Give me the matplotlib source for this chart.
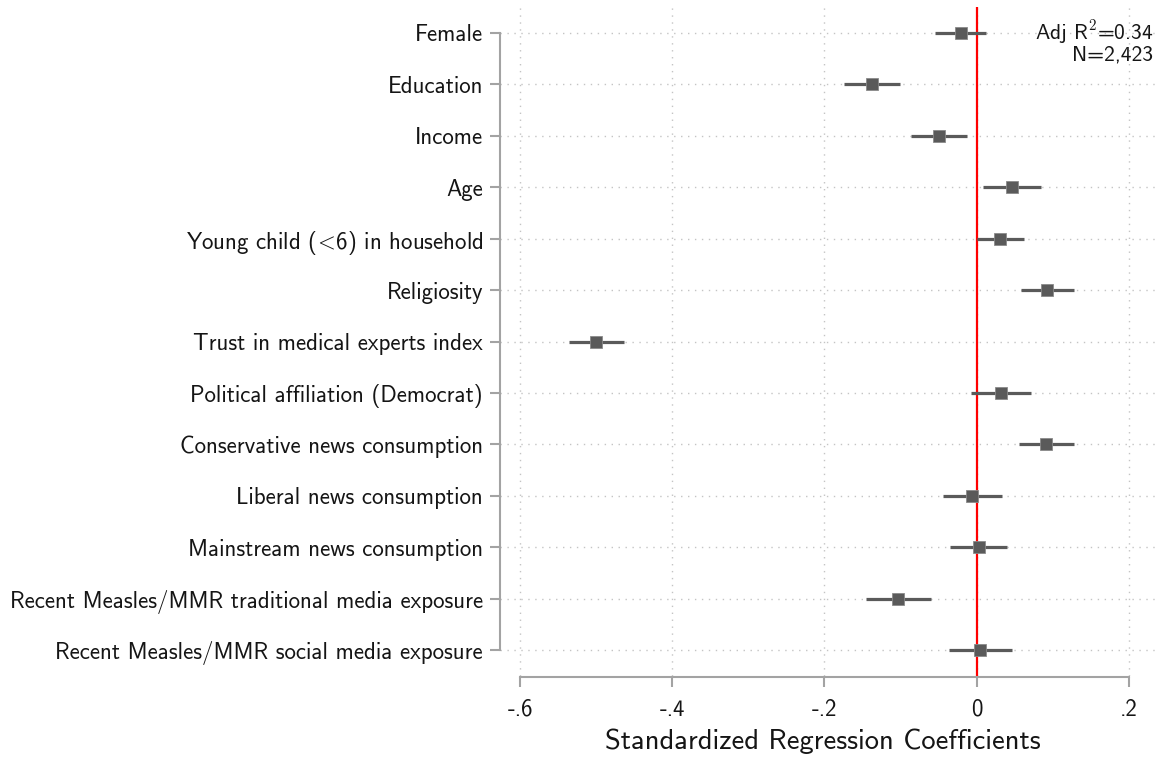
import matplotlib
matplotlib.use("Agg")
import matplotlib.pyplot as plt

labels = ["Female", "Education", "Income", "Age", r"Young child ($\!<\!$6) in household",
          "Religiosity", "Trust in medical experts index", "Political affiliation (Democrat)",
          "Conservative news consumption", "Liberal news consumption",
          "Mainstream news consumption", "Recent Measles/MMR traditional media exposure",
          "Recent Measles/MMR social media exposure"]
coef = [-0.021, -0.138, -0.049, 0.047, 0.031, 0.092, -0.500, 0.032, 0.091, -0.006, 0.003, -0.103, 0.005]
ci_low = [-0.055, -0.175, -0.086, 0.008, 0.000, 0.058, -0.536, -0.007, 0.055, -0.044, -0.035, -0.145, -0.036]
ci_high = [0.012, -0.101, -0.013, 0.084, 0.062, 0.128, -0.464, 0.072, 0.128, 0.033, 0.040, -0.060, 0.046]
xticks = [-0.6, -0.4, -0.2, 0, 0.2]
xticklabels = ["-.6", "-.4", "-.2", "0", ".2"]
stats_lines = [r"Adj R$^{\mathsf{2}}$=0.34", "N=2,423"]
xlabel = "Standardized Regression Coefficients"

plt.rcParams["font.family"] = ["cmss10", "DejaVu Sans"]
plt.rcParams["mathtext.fontset"] = "cm"
plt.rcParams["axes.unicode_minus"] = False

W, H = 1159, 757
fig = plt.figure(figsize=(W / 100, H / 100), dpi=100)
ax = fig.add_axes([500 / W, 1 - 676 / H, 659 / W, 669 / H])

pos = list(range(1, len(labels) + 1))
axis_gray = "#a3a3a3"
mark = "#5a5a5a"
txt = "#151515"

for s in ["top", "right"]:
    ax.spines[s].set_visible(False)
ax.spines["bottom"].set_position(("outward", 1))

for p in pos:
    ax.axhline(p, color="#c4c4c4", lw=1.0, ls=(0, (1, 4)), zorder=0)
for t in xticks:
    ax.axvline(t, color="#c4c4c4", lw=1.0, ls=(0, (1, 4)), zorder=0)

ax.axvline(0, color="#ff0000", lw=1.6, zorder=1)

for p, c, lo, hi in zip(pos, coef, ci_low, ci_high):
    ax.plot([lo, hi], [p, p], color=mark, lw=2.3, solid_capstyle="butt", zorder=2)
ax.plot(coef, pos, ls="none", marker="s", ms=9.2, color=mark,
        markeredgecolor="#8a8a8a", markeredgewidth=0.6, zorder=3)

ax.set_xlim(-0.6264, 0.2396)
ax.set_ylim(13.5, 0.5)

ax.set_yticks(pos)
ax.set_yticklabels(labels)
ax.set_xticks(xticks)
ax.set_xticklabels(xticklabels)

ax.spines["left"].set_bounds(1, 13)
ax.spines["bottom"].set_bounds(-0.6, 0.2)
for s in ["left", "bottom"]:
    ax.spines[s].set_color(axis_gray)
    ax.spines[s].set_linewidth(1.5)
ax.tick_params(axis="y", direction="out", length=7.2, width=1.5, color=axis_gray, pad=5,
               labelsize=16.5, labelcolor=txt)
ax.tick_params(axis="x", direction="out", length=7.2, width=1.5, color=axis_gray, pad=8,
               labelsize=16.5, labelcolor=txt)

fig.text(823 / W, 1 - 749.5 / H, xlabel, ha="center", va="baseline", fontsize=20.5, color=txt)

fig.text(1153 / W, 1 - 60.5 / H, "\n".join(stats_lines), ha="right", va="baseline",
         multialignment="right", fontsize=15.5, color=txt, linespacing=0.95)

fig.savefig("out.png", dpi=100)
